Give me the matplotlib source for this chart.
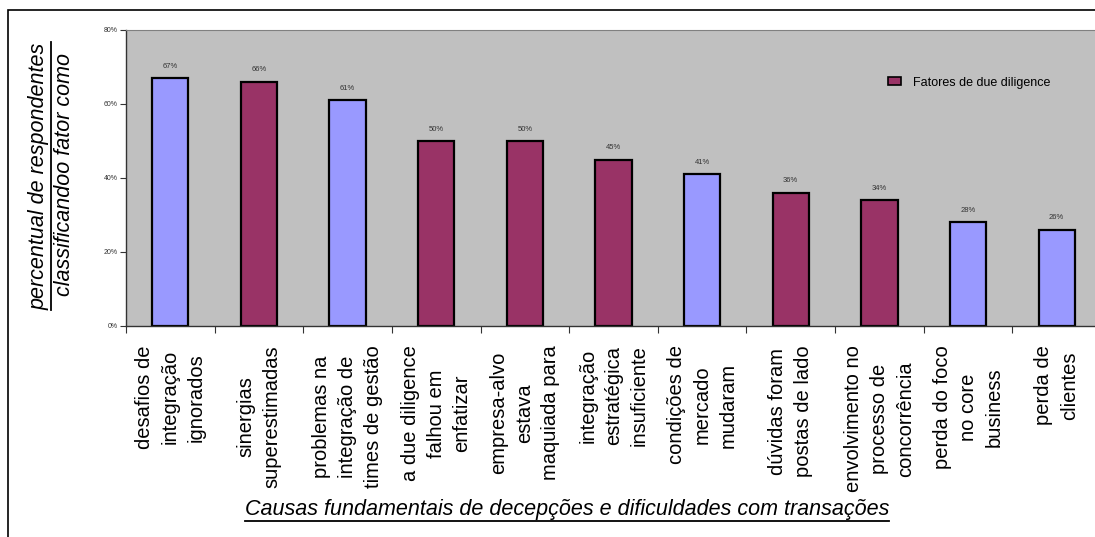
import numpy as np
import matplotlib.pyplot as plt
from matplotlib.patches import Patch, Rectangle
from matplotlib.lines import Line2D

plt.rcParams['font.family'] = ['Liberation Sans', 'DejaVu Sans']

# dados
causas = [
    'desafios de\nintegração\nignorados',
    'sinergias\nsuperestimadas',
    'problemas na\nintegração de\ntimes de gestão',
    'a due diligence\nfalhou em\nenfatizar',
    'empresa-alvo\nestava\nmaquiada para',
    'integração\nestratégica\ninsuficiente',
    'condições de\nmercado\nmudaram',
    'dúvidas foram\npostas de lado',
    'envolvimento no\nprocesso de\nconcorrência',
    'perda do foco\nno core\nbusiness',
    'perda de\nclientes',
]
percentuais = [67, 66, 61, 50, 50, 45, 41, 36, 34, 28, 26]
due_diligence = [False, True, False, True, True, True, False, True, True, False, False]
yticks = [0, 20, 40, 60, 80]

cor_dd = '#993366'
cor_outro = '#9999FF'
cores = [cor_dd if d else cor_outro for d in due_diligence]

fig = plt.figure(figsize=(10.95, 5.37), dpi=100)
fig.patch.set_facecolor('white')

# moldura externa (cortada a direita e embaixo)
fig.patches.append(Rectangle((8 / 1095, -0.2), 1.2, 1.2 - 10 / 537,
                             transform=fig.transFigure, fill=False,
                             edgecolor='black', linewidth=1.2))

ax = fig.add_axes([126 / 1095, (537 - 326) / 537, 975 / 1095, 296 / 537])
ax.set_facecolor('#C0C0C0')

x = np.arange(len(causas))
barras = ax.bar(x, percentuais, width=0.41, color=cores, edgecolor='black', linewidth=1.6)

for b, v in zip(barras, percentuais):
    ax.annotate(f'{v}%', (b.get_x() + b.get_width() / 2, v), xytext=(0, 6),
                textcoords='offset points', ha='center', va='bottom',
                fontsize=5.5, color='#333333')

ax.set_xlim(-0.5, len(causas) - 0.5)
ax.set_ylim(0, 80)
ax.set_yticks(yticks, [f'{t}%' for t in yticks], fontsize=5, color='#333333')
ax.tick_params(axis='y', length=4, width=0.8, color='#333333', pad=2)

ax.set_xticks(x, causas, rotation=90, fontsize=14.5, ha='center', va='top',
              multialignment='center', linespacing=1.45)
ax.tick_params(axis='x', length=0, pad=14)
ax.set_xticks(np.arange(len(causas) + 1) - 0.5, minor=True)
ax.tick_params(axis='x', which='minor', length=5, width=0.8, color='#333333')

for s in ['top', 'right']:
    ax.spines[s].set_color('#808080')
    ax.spines[s].set_linewidth(0.8)
for s in ['left', 'bottom']:
    ax.spines[s].set_color('#333333')
    ax.spines[s].set_linewidth(1.0)

leg = ax.legend(handles=[Patch(facecolor=cor_dd, edgecolor='black', linewidth=1.2,
                               label='Fatores de due diligence')],
                loc='upper left', bbox_to_anchor=(0.77, 0.88), frameon=False,
                fontsize=9, handlelength=1.0, handleheight=0.6, handletextpad=1.0)

# titulos dos eixos
tx = fig.text(567 / 1095, 1 - 509 / 537,
              'Causas fundamentais de decepções e dificuldades com transações',
              ha='center', va='center', fontsize=15.5, style='italic')
ty1 = fig.text(39 / 1095, 1 - 176 / 537, 'percentual de respondentes',
               rotation=90, ha='center', va='center', fontsize=15.5, style='italic')
ty2 = fig.text(64 / 1095, 1 - 174 / 537, 'classificandoo fator como',
               rotation=90, ha='center', va='center', fontsize=15.5, style='italic')

# sublinhados
fig.canvas.draw()
r = fig.canvas.get_renderer()
W, H = fig.bbox.width, fig.bbox.height
bb = tx.get_window_extent(r)
fig.add_artist(Line2D([bb.x0 / W, bb.x1 / W], [(bb.y0 - 1) / H] * 2,
                      transform=fig.transFigure, color='black', linewidth=1.3))
bb = ty1.get_window_extent(r)
fig.add_artist(Line2D([(bb.x1 + 1) / W] * 2, [bb.y0 / H, bb.y1 / H],
                      transform=fig.transFigure, color='black', linewidth=1.3))

fig.savefig('out.png', dpi=100)
